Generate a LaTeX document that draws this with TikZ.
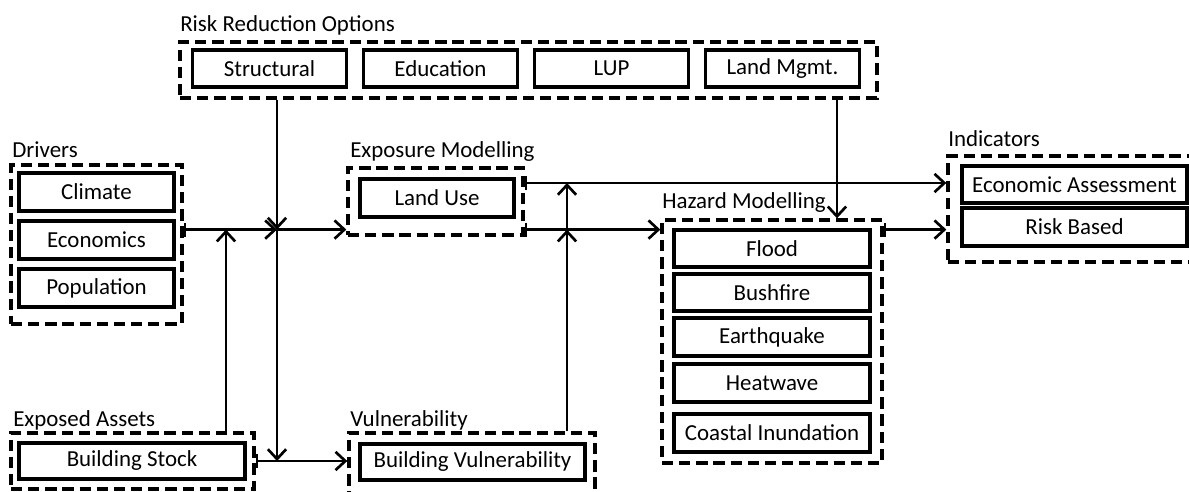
\documentclass[tikz,border=0pt]{standalone}
\usepackage{fontspec}
\setmainfont{Carlito}
\usepackage{tikz}
\usetikzlibrary{arrows.meta}

\begin{document}
\begin{tikzpicture}[
    box/.style={draw, line width=2.6pt, minimum height=0.94cm, inner sep=0pt, font=\fontsize{16.3}{19}\selectfont},
    grp/.style={draw, line width=2.4pt, dash pattern=on 8pt off 4.2pt, inner sep=0pt},
    grplabel/.style={anchor=base west, inner sep=0pt, font=\fontsize{16.3}{19}\selectfont},
    flow/.style={line width=1.9pt, -{Straight Barb[length=7pt,width=13pt]}},
    flowbar/.style={line width=1.9pt, {Bar[width=10pt]}-{Straight Barb[length=7pt,width=13pt]}}
]
\useasboundingbox (0,0) rectangle (29.725,12.3);
\clip (0,0) rectangle (29.725,12.3);

% risk reduction options
\node[grp, minimum width=17.425cm, minimum height=1.4cm] (rro) at (13.2125,10.55) {};
\node[grplabel] (rrolbl) at (4.5,11.5) {Risk Reduction Options};
\node[box, minimum width=3.85cm] (struct) at (6.7375,10.5875) {Structural};
\node[box, minimum width=3.85cm] (edu) at (11.0125,10.5875) {Education};
\node[box, minimum width=3.85cm] (lup) at (15.2875,10.5875) {LUP};
\node[box, minimum width=3.85cm] (landm) at (19.5625,10.5875) {Land Mgmt.};

% drivers
\node[grp, minimum width=4.275cm, minimum height=3.975cm] (drv) at (2.4125,6.1875) {};
\node[grplabel] (drvlbl) at (0.3,8.35) {Drivers};
\node[box, minimum width=3.875cm] (clim) at (2.4125,7.5) {Climate};
\node[box, minimum width=3.875cm] (econ) at (2.4125,6.3) {Economics};
\node[box, minimum width=3.875cm] (pop) at (2.4125,5.1) {Population};

% exposure modelling
\node[grp, minimum width=4.375cm, minimum height=1.675cm] (expo) at (10.8875,7.2625) {};
\node[grplabel] (expolbl) at (8.75,8.35) {Exposure Modelling};
\node[box, minimum width=3.85cm] (landuse) at (10.925,7.35) {Land Use};

% exposed assets
\node[grp, minimum width=6.075cm, minimum height=1.4cm] (assets) at (3.3125,0.775) {};
\node[grplabel] (assetslbl) at (0.325,1.625) {Exposed Assets};
\node[box, minimum width=5.65cm, minimum height=0.9cm] (stock) at (3.3,0.775) {Building Stock};

% vulnerability
\node[grp, minimum width=6.15cm, minimum height=1.675cm] (vuln) at (11.8,0.6375) {};
\node[grplabel] (vulnlbl) at (8.75,1.625) {Vulnerability};
\node[box, minimum width=5.625cm, minimum height=0.9cm] (bvuln) at (11.8125,0.75) {Building Vulnerability};

% hazard modelling
\node[grp, minimum width=5.5cm, minimum height=6.075cm] (haz) at (19.3,3.7625) {};
\node[grplabel] (hazlbl) at (16.55,7.075) {Hazard Modelling};
\node[box, minimum width=4.9cm] (flood) at (19.3,6.0875) {Flood};
\node[box, minimum width=4.9cm] (bush) at (19.3,4.9875) {Bushfire};
\node[box, minimum width=4.9cm] (quake) at (19.3,3.875) {Earthquake};
\node[box, minimum width=4.9cm] (heat) at (19.3,2.725) {Heatwave};
\node[box, minimum width=4.9cm] (coast) at (19.3,1.475) {Coastal Inundation};

% indicators
\node[grp, minimum width=6.3cm, minimum height=2.65cm] (ind) at (26.85,7.075) {};
\node[grplabel] (indlbl) at (23.7,8.625) {Indicators};
\node[box, minimum width=5.625cm] (ecoass) at (26.8625,7.6875) {Economic Assessment};
\node[box, minimum width=5.625cm] (riskb) at (26.8625,6.625) {Risk Based};

% junctions
\coordinate (jdrv) at (6.925,6.56);
\coordinate (jstock) at (6.925,0.775);
\coordinate (jup) at (5.65,6.56);
\coordinate (jvul) at (14.175,6.56);
\coordinate (jtop) at (14.175,7.725);
\coordinate (jlm) at (20.925,0);

\draw[flowbar] (drv.east |- jdrv) -- (jdrv);
\draw[flow] (rro.south -| jdrv) -- (jdrv);
\draw[flow] (jdrv) -- (expo.west |- jdrv);
\draw[flow] (jdrv) -- (jstock);
\draw[flow] (assets.north -| jup) -- (jup);
\draw[flowbar] (assets.east |- jstock) -- (vuln.west |- jstock);

\draw[flowbar] (expo.east |- jtop) -- (ind.west |- jtop);
\draw[flowbar] (expo.east |- jvul) -- (haz.west |- jvul);
\draw[flow] (vuln.north -| jvul) -- (jvul);
\draw[flow] (jvul) -- (jtop);

\draw[flow] (rro.south -| jlm) -- (haz.north -| jlm);
\draw[flowbar] (haz.east |- jvul) -- (ind.west |- jvul);
\end{tikzpicture}
\end{document}
